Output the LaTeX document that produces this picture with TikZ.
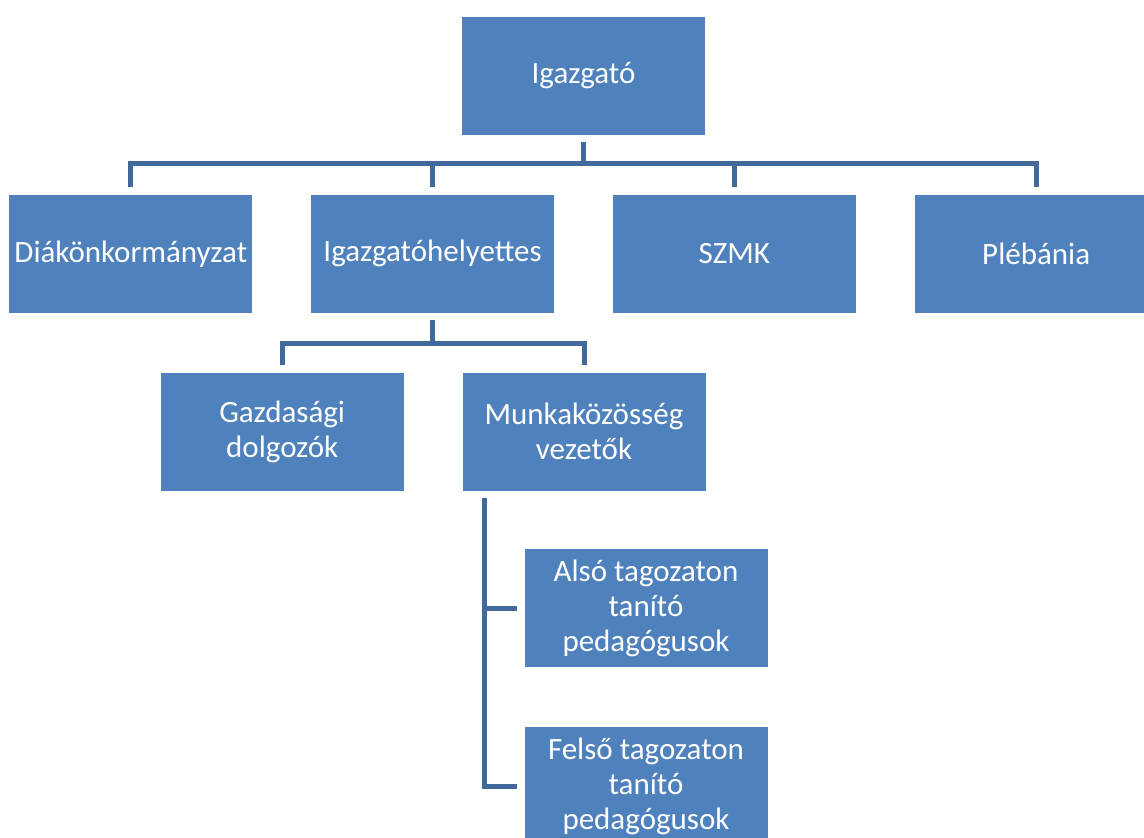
\documentclass[tikz,border=0pt]{standalone}
\usepackage{fontspec}
\setmainfont{Carlito}
\usepackage{xcolor}
\usepackage{tikz}
\usetikzlibrary{positioning}

\definecolor{boxblue}{HTML}{4F81BD}
\definecolor{lineblue}{HTML}{41699B}

\begin{document}
\begin{tikzpicture}[
  box/.style={fill=boxblue, minimum width=121.5pt, minimum height=59pt, align=center, text=white, font=\fontsize{15.5}{17.5}\selectfont, inner sep=0pt},
  conn/.style={draw=lineblue, line width=2.5pt, shorten <=3.5pt, shorten >=3.5pt},
  node distance=29.5pt and 29pt,
]
  \useasboundingbox (0,0) rectangle (572pt,-418.5pt);
  \clip (0,0) rectangle (572pt,-418.5pt);

  % Row 1
  \node[box] (igaz) at (291.75pt,-38pt) {Igazgató};

  % Row 2
  \node[box, below left=29.5pt and 14.5pt of igaz.south] (helyet) {Igazgatóhelyettes};
  \node[box, below right=29.5pt and 14.5pt of igaz.south] (szmk) {SZMK};
  \node[box, left=of helyet] (diak) {Diákönkormányzat};
  \node[box, right=of szmk] (pleb) {Plébánia};

  % Row 3
  \node[box, below left=29.5pt and 14.25pt of helyet.south] (gazd) {Gazdasági\\dolgozók};
  \node[box, below right=29.5pt and 14.75pt of helyet.south] (munk) {Munkaközösség\\vezetők};

  % Row 4
  \node[box, below=29pt of munk.south west, anchor=north west, xshift=31pt] (also) {Alsó tagozaton\\tanító\\pedagógusok};
  \node[box, below=of also] (felso) {Felső tagozaton\\tanító\\pedagógusok};

  % Lines row 1 -> 2
  \draw[conn] (igaz.south) -- ++(0,-14pt) -| (diak.north);
  \draw[conn] (igaz.south) -- ++(0,-14pt) -| (helyet.north);
  \draw[conn] (igaz.south) -- ++(0,-14pt) -| (szmk.north);
  \draw[conn] (igaz.south) -- ++(0,-14pt) -| (pleb.north);

  % Lines row 2 -> 3
  \draw[conn] (helyet.south) -- ++(0,-15pt) -| (gazd.north);
  \draw[conn] (helyet.south) -- ++(0,-15pt) -| (munk.north);

  % Lines row 3 -> 4
  \draw[conn] ([xshift=11pt]munk.south west) |- (also.west);
  \draw[conn] ([xshift=11pt]munk.south west) |- (felso.west);
\end{tikzpicture}
\end{document}
